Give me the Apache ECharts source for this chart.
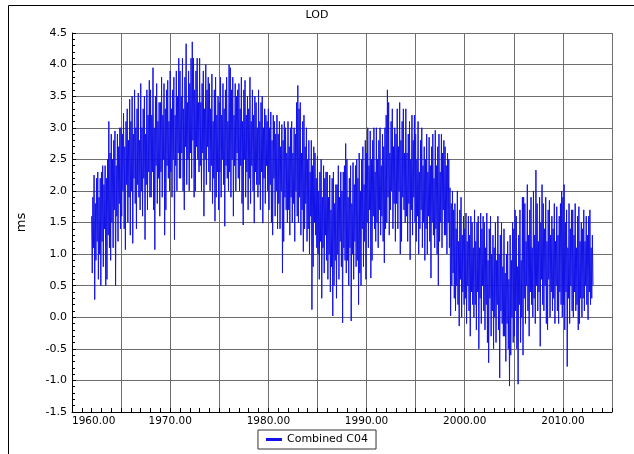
<!DOCTYPE html>
<html>
<head>
<meta charset="utf-8">
<script src="https://cdn.jsdelivr.net/npm/echarts@6/dist/echarts.min.js"></script>
<style>html,body{margin:0;padding:0;background:#fff}#c{width:634px;height:454px}</style>
</head>
<body>
<div id="c"></div>
<script>
// LOD values (ms), 16 samples per year starting 1962.0
const lod1960s = [
  1.6,0.7,1.9,1.1,2.25,0.28,1.8,0.9,2.2,1.2,2.3,0.6,1.9,1.0,2.2,0.5,
  2.3,1.2,2.4,0.8,2.1,1.4,2.4,0.5,2.2,0.6,2.5,1.3,3.1,1.1,2.6,0.9,
  2.9,1.5,2.5,1.1,2.8,1.7,2.95,0.5,2.4,1.6,2.9,1.2,2.7,1.8,3.0,1.4,
  3.0,1.6,2.9,2.0,3.23,1.4,2.7,1.07,3.1,2.1,3.3,1.5,2.8,1.9,3.45,1.3,
  3.1,2.0,3.5,1.17,2.9,2.2,3.6,1.8,3.0,1.4,3.3,2.1,3.55,1.9,2.8,1.7,
  3.7,2.0,3.0,1.6,3.3,2.2,3.5,1.23,2.9,2.1,3.6,1.7,3.2,2.3,3.75,1.9,
  3.6,1.9,3.2,2.3,3.95,1.7,3.0,1.07,3.5,2.4,3.7,1.8,3.1,2.2,3.4,1.6,
  3.4,2.3,3.8,1.9,3.2,2.5,3.7,1.3,3.3,1.7,3.6,2.4,3.75,2.2,3.1,2.0
];
const lod1970s = [
  3.9,2.3,3.3,1.9,3.6,2.5,3.8,1.23,3.2,2.4,3.9,2.0,3.5,2.6,4.1,2.2,
  3.9,2.2,3.5,2.6,4.1,2.0,3.3,1.7,3.8,2.7,4.33,2.1,3.4,2.5,3.9,2.0,
  3.7,2.6,4.1,2.2,4.36,2.8,4.1,1.9,3.6,2.0,3.9,2.7,4.1,2.5,3.4,2.3,
  4.1,2.4,3.4,2.0,3.7,2.6,3.9,1.6,3.3,2.5,4.0,2.1,3.6,2.7,3.8,2.3,
  3.7,2.0,3.3,2.4,3.85,1.8,3.1,2.2,3.6,1.52,3.8,1.9,3.2,2.3,3.5,1.7,
  3.4,2.3,3.8,1.9,3.2,2.5,3.7,2.1,3.3,1.44,3.6,2.4,3.8,2.2,3.1,2.0,
  4.0,2.3,3.95,1.9,3.6,2.5,3.8,1.6,3.2,2.4,3.7,2.0,3.5,2.6,3.6,2.2,
  3.7,2.0,3.3,2.4,3.8,1.8,3.1,1.46,3.6,2.5,3.75,1.9,3.2,2.3,3.5,1.7,
  3.3,2.2,3.8,1.8,3.1,2.4,3.6,2.0,3.2,1.49,3.5,2.3,3.4,2.1,3.0,1.9,
  3.6,2.1,3.1,1.7,3.4,2.3,3.5,1.49,3.0,2.2,3.3,1.8,3.2,2.4,3.1,2.0
];
const lod1980s = [
  3.3,1.7,3.0,2.1,3.25,1.5,2.8,1.3,3.2,2.2,3.1,1.6,2.9,2.0,3.2,1.4,
  2.9,1.8,3.1,1.4,2.7,2.0,3.05,0.7,2.8,1.2,3.1,1.9,3.0,1.7,2.6,1.5,
  3.1,1.7,2.7,1.3,3.0,1.9,3.1,1.5,2.6,1.8,3.0,1.2,2.9,2.0,3.4,1.6,
  3.67,1.5,3.3,1.9,3.4,1.3,2.6,1.7,3.1,1.04,3.2,1.4,2.7,1.8,3.0,1.2,
  2.5,1.4,2.8,1.0,2.3,1.6,2.8,0.12,2.4,0.8,2.7,1.5,2.6,1.3,2.2,1.1,
  2.55,1.0,2.0,0.6,2.3,1.2,2.5,0.3,1.9,1.1,2.4,0.7,2.2,1.3,2.3,0.9,
  2.3,0.6,1.9,1.0,2.25,0.4,1.7,0.8,2.2,0.02,2.3,0.5,1.8,0.9,2.1,0.3,
  2.1,1.0,2.4,0.6,1.9,1.2,2.3,0.8,2.0,-0.09,2.3,1.1,2.4,0.9,2.75,0.7,
  2.5,0.9,1.9,0.5,2.2,1.1,2.4,-0.06,1.8,1.0,2.45,0.6,2.1,1.2,2.4,0.8,
  2.5,0.9,2.2,0.2,2.6,0.7,2.0,0.5,2.5,1.4,2.7,0.8,2.1,1.2,2.8,0.6
];
const lod1990s = [
  2.6,1.5,3.0,1.1,2.4,1.7,2.95,0.62,2.5,0.9,2.8,1.6,3.0,1.4,2.3,1.2,
  3.0,1.5,2.5,1.1,2.8,1.7,3.0,1.3,2.4,1.6,2.9,1.2,2.7,0.86,3.0,1.4,
  3.2,1.5,3.6,1.9,3.4,1.3,2.6,1.7,3.1,2.0,3.3,1.4,2.7,1.8,3.0,1.2,
  2.9,1.8,3.3,1.4,2.7,2.0,3.4,1.0,2.8,1.2,3.1,1.9,3.3,1.7,2.6,1.5,
  3.3,1.6,2.6,1.2,2.9,1.8,3.1,0.91,2.5,1.7,3.2,1.3,2.8,1.9,3.2,1.5,
  2.9,1.2,2.5,1.6,3.1,1.0,2.3,1.4,2.8,1.7,3.0,1.1,2.4,1.5,2.7,0.9,
  2.5,1.4,2.9,1.0,2.3,1.6,2.85,1.2,2.4,0.62,2.7,1.5,2.9,1.3,2.2,1.1,
  2.96,1.4,2.4,1.0,2.7,0.5,2.9,1.2,2.3,1.5,2.9,1.1,2.6,1.7,2.8,1.3,
  2.7,1.3,2.4,1.0,2.6,1.5,2.5,1.1,2.05,0.02,1.8,0.5,2.0,0.7,1.7,0.3,
  1.8,0.1,1.4,0.5,2.0,0.2,1.2,-0.14,1.7,0.6,1.9,0.0,1.3,0.4,1.6,0.2
];
const lod2000s = [
  1.4,0.3,1.65,-0.1,1.2,0.5,1.6,0.1,1.3,-0.3,1.6,0.4,1.5,0.2,1.1,0.0,
  1.7,0.2,1.2,-0.2,1.5,0.4,1.6,-0.5,1.1,0.3,1.65,-0.1,1.4,0.5,1.6,0.1,
  1.5,-0.2,1.1,0.2,1.65,-0.4,0.9,-0.72,1.4,0.3,1.6,-0.3,1.0,0.1,1.3,-0.5,
  1.1,0.0,1.5,-0.4,0.9,0.2,1.6,-0.2,1.0,-0.96,1.3,0.1,1.5,-0.1,0.8,-0.3,
  1.4,-0.3,0.7,-0.7,1.0,-0.1,1.2,-0.5,0.6,-1.09,1.3,-0.6,0.9,0.0,1.5,-0.4,
  1.4,-0.3,1.7,0.1,1.6,-0.5,0.8,-1.06,1.3,0.2,1.7,-0.4,0.9,0.0,1.9,-0.6,
  1.9,0.3,1.8,-0.1,1.2,0.5,2.1,0.1,1.3,-0.3,1.7,0.4,1.9,0.2,1.1,0.0,
  2.0,0.3,1.3,-0.1,2.33,0.5,1.8,0.1,1.2,0.4,1.9,-0.46,1.5,0.6,2.1,0.2,
  1.8,0.1,1.4,0.5,1.9,-0.1,1.2,-0.2,1.7,0.6,1.85,0.0,1.3,0.4,1.6,0.1,
  1.4,0.3,1.8,-0.1,1.2,0.5,1.75,0.1,1.3,-0.1,1.6,0.4,1.8,0.2,2.0,0.0
];
const lod2010s = [
  1.9,0.2,2.1,-0.2,1.5,0.4,1.7,-0.78,1.1,0.3,1.8,-0.1,1.4,0.5,1.7,0.1,
  1.7,0.0,1.3,0.4,1.8,0.1,1.1,0.2,1.6,-0.2,1.75,-0.1,1.2,0.3,1.5,0.0,
  1.4,0.3,1.7,0.1,1.2,0.5,1.6,0.2,1.3,-0.04,1.6,0.4,1.7,0.2,1.1,0.3,
  1.3,0.5
];
const startYear = 1962;
const samplesPerYear = 16;
const seriesName = 'Combined C04';
const xTickLabels = [1960, 1970, 1980, 1990, 2000, 2010];

const values = [].concat(lod1960s, lod1970s, lod1980s, lod1990s, lod2000s, lod2010s);
const data = values.map((v, i) => [startYear + i / samplesPerYear, v]);

const font = 'DejaVu Sans, Verdana, sans-serif';
const chart = echarts.init(document.getElementById('c'), null, {renderer: 'canvas'});
chart.setOption({
  animation: false,
  backgroundColor: '#fff',
  title: {
    text: 'LOD', left: 'center', top: 5,
    textStyle: {fontFamily: font, fontSize: 11, fontWeight: 'normal', color: '#000'}
  },
  graphic: [{
    type: 'rect', shape: {x: 8.5, y: 5.5, width: 700, height: 600},
    style: {fill: 'none', stroke: '#000', lineWidth: 1}, silent: true
  }],
  legend: {
    bottom: 5, left: 'center',
    data: [seriesName],
    icon: 'rect', itemWidth: 16, itemHeight: 3, itemGap: 6,
    borderColor: '#333', borderWidth: 1, padding: [4, 8, 4, 8],
    textStyle: {fontFamily: font, fontSize: 11, color: '#000'}
  },
  grid: {left: 72, right: 22, top: 33, bottom: 42, containLabel: false},
  xAxis: {
    type: 'value', min: 1960, max: 2015, interval: 5,
    axisLine: {show: true, onZero: false, lineStyle: {color: '#000'}},
    axisTick: {show: true, inside: true, length: 4, lineStyle: {color: '#000'}},
    minorTick: {show: true, splitNumber: 5, length: 4, lineStyle: {color: '#000'}},
    axisLabel: {
      fontFamily: font, fontSize: 10.5, color: '#000', margin: 4,
      alignMinLabel: 'left',
      formatter: v => xTickLabels.indexOf(v) >= 0 ? v.toFixed(2) : ''
    },
    splitLine: {show: true, lineStyle: {color: '#6e6e6e', width: 1}}
  },
  yAxis: {
    type: 'value', min: -1.5, max: 4.5, interval: 0.5,
    name: 'ms', nameLocation: 'middle', nameGap: 44, nameRotate: 90,
    nameTextStyle: {fontFamily: font, fontSize: 13, color: '#000'},
    axisLine: {show: true, onZero: false, lineStyle: {color: '#000'}},
    axisTick: {show: true, inside: true, length: 4, lineStyle: {color: '#000'}},
    minorTick: {show: true, splitNumber: 5, length: 3, lineStyle: {color: '#000'}},
    axisLabel: {fontFamily: font, fontSize: 11, color: '#000', margin: 5, formatter: v => v.toFixed(1)},
    splitLine: {show: true, lineStyle: {color: '#6e6e6e', width: 1}}
  },
  series: [{
    name: seriesName, type: 'line', data: data,
    showSymbol: false, symbol: 'none', sampling: false,
    lineStyle: {color: '#1212e8', width: 1},
    itemStyle: {color: '#1212e8'}
  }]
});
</script>
</body>
</html>
